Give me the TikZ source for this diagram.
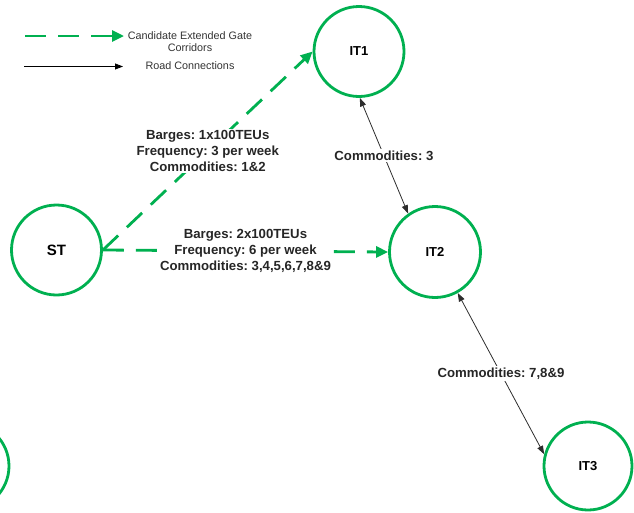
\documentclass[tikz,border=0pt]{standalone}
\usepackage{fontspec}
\setmainfont{Liberation Sans}
\usetikzlibrary{arrows.meta}
\definecolor{corridor}{RGB}{0,176,80}
\definecolor{road}{RGB}{45,45,45}
\tikzset{
  terminal/.style={circle, draw=corridor, line width=2.8pt, minimum size=90pt,
    inner sep=0pt, font=\bfseries\fontsize{13}{15}\selectfont},
  gate/.style={draw=corridor, line width=2.8pt, dash pattern=on 21pt off 12pt,
    -{Triangle[length=12pt,width=11pt]}},
  roadlink/.style={draw=road, line width=0.8pt,
    {Triangle[length=8.5pt,width=6pt]}-{Triangle[length=8.5pt,width=6pt]}},
  roadkey/.style={draw=black, line width=0.8pt, -{Triangle[length=8pt,width=6pt]}},
  flowlabel/.style={fill=white, align=center, inner sep=1.5pt,
    font=\bfseries\fontsize{13.2}{15.8}\selectfont, text=black!85},
  keytext/.style={align=center, inner sep=0pt,
    font=\fontsize{10.8}{12.2}\selectfont, text=black!80},
}
\begin{document}
\frenchspacing
\begin{tikzpicture}[x=1pt, y=-1pt]
  \useasboundingbox (0,0) rectangle (634,512);
  \clip (0,0) rectangle (634,512);

  % terminals
  \node[terminal] (IT1) at (359,51.5) {IT1};
  \node[terminal, font=\bfseries\fontsize{15}{17}\selectfont] (ST) at (56.5,250) {ST};
  \node[terminal, minimum size=91pt] (IT2) at (435,252) {IT2};
  \node[terminal, minimum size=88pt] (IT3) at (588,466) {IT3};
  \node[terminal, minimum size=88pt] (SW) at (-35,466) {};

  % legend
  \coordinate (k1a) at (25,36);
  \coordinate (k1b) at (124,36);
  \coordinate (k2a) at (24,66.5);
  \coordinate (k2b) at (123,66.5);
  \draw[gate] (k1a) -- (k1b);
  \node[keytext] (k1t) at (190,42) {Candidate Extended Gate\\Corridors};
  \draw[roadkey] (k2a) -- (k2b);
  \node[keytext] (k2t) at (190,66) {Road Connections};

  % extended gate corridors
  \draw[gate] (ST.east) -- node[flowlabel] (L1)
    {Barges: 1x100TEUs\\Frequency: 3 per week\\Commodities: 1\&2} (IT1.west);
  \draw[gate] (ST.east) -- node[flowlabel] (L2)
    {Barges: 2x100TEUs\\Frequency: 6 per week\\Commodities: 3,4,5,6,7,8\&9} (IT2.west);

  % road connections
  \draw[roadlink] (IT1.271) -- node[flowlabel] (L3) {Commodities: 3} (IT2.125);
  \draw[roadlink] (IT2.299) -- node[flowlabel] (L4) {Commodities: 7,8\&9} (IT3.165);
\end{tikzpicture}
\end{document}
